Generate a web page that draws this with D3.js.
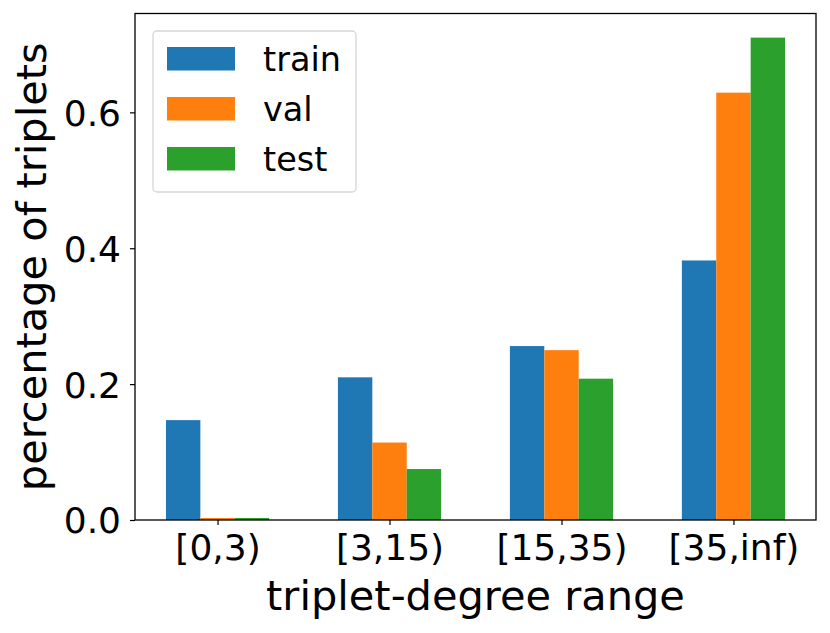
<!DOCTYPE html>
<html>
<head>
<meta charset="utf-8">
<script src="https://cdn.jsdelivr.net/npm/d3@7"></script>
<style>
  body { margin: 0; background: #fff; }
  text { font-family: "DejaVu Sans", sans-serif; fill: #000; }
</style>
</head>
<body>
<svg id="chart" width="830" height="633"></svg>
<script>
// data
const categories = ['[0,3)', '[3,15)', '[15,35)', '[35,inf)'];
const seriesNames = ['train', 'val', 'test'];
const trainValues = [0.147, 0.210, 0.256, 0.382];
const valValues = [0.003, 0.114, 0.250, 0.629];
const testValues = [0.003, 0.075, 0.208, 0.710];
const yTicks = [0.0, 0.2, 0.4, 0.6];
const colors = ['#1f77b4', '#ff7f0e', '#2ca02c'];

const series = [trainValues, valValues, testValues];

const svg = d3.select('#chart');
const plotLeft = 135, plotRight = 816, plotTop = 13.5, plotBottom = 520;
const barW = 0.2;

const x = d3.scaleLinear()
    .domain([-0.3 - 0.18, categories.length - 1 + 0.3 + 0.18])
    .range([plotLeft, plotRight]);

const yMax = d3.max(series, s => d3.max(s)) * 1.05;
const y = d3.scaleLinear()
    .domain([0, yMax])
    .range([plotBottom, plotTop]);

// bars
series.forEach(function(vals, si) {
    svg.append('g')
        .selectAll('rect')
        .data(vals)
        .enter()
        .append('rect')
        .attr('x', (d, i) => x(i + (si - 1) * barW - barW / 2))
        .attr('width', x(barW) - x(0))
        .attr('y', d => y(d))
        .attr('height', d => y(0) - y(d))
        .attr('fill', colors[si]);
});

// axes
const xAxis = d3.axisBottom(x)
    .tickValues(d3.range(categories.length))
    .tickFormat(i => categories[i])
    .tickSize(5)
    .tickPadding(8);
const gx = svg.append('g')
    .attr('transform', `translate(0,${plotBottom})`)
    .call(xAxis);
gx.select('.domain').remove();
gx.selectAll('line').attr('stroke', '#000').attr('stroke-width', 1.2);
gx.selectAll('text').style('font-size', '36px').attr('dy', '0.76em');

const yAxis = d3.axisLeft(y)
    .tickValues(yTicks)
    .tickFormat(d3.format('.1f'))
    .tickSize(5)
    .tickPadding(9);
const gy = svg.append('g')
    .attr('transform', `translate(${plotLeft},0)`)
    .call(yAxis);
gy.select('.domain').remove();
gy.selectAll('line').attr('stroke', '#000').attr('stroke-width', 1.2);
gy.selectAll('text').style('font-size', '36px').attr('dy', '0.36em');

// frame
svg.append('rect')
    .attr('x', plotLeft).attr('y', plotTop)
    .attr('width', plotRight - plotLeft).attr('height', plotBottom - plotTop)
    .attr('fill', 'none')
    .attr('stroke', '#000')
    .attr('stroke-width', 1.3);

// axis labels
svg.append('text')
    .attr('x', (plotLeft + plotRight) / 2)
    .attr('y', 610)
    .attr('text-anchor', 'middle')
    .style('font-size', '41.5px')
    .text('triplet-degree range');

svg.append('text')
    .attr('transform', `translate(46,${(plotTop + plotBottom) / 2}) rotate(-90)`)
    .attr('text-anchor', 'middle')
    .style('font-size', '41.5px')
    .text('percentage of triplets');

// legend
const legend = svg.append('g');
legend.append('rect')
    .attr('x', 153).attr('y', 31)
    .attr('width', 203).attr('height', 161)
    .attr('rx', 4)
    .attr('fill', '#fff')
    .attr('fill-opacity', 0.8)
    .attr('stroke', '#d6d6d6')
    .attr('stroke-width', 1.3);

seriesNames.forEach(function(name, i) {
    const yy = 47 + i * 50;
    legend.append('rect')
        .attr('x', 167).attr('y', yy)
        .attr('width', 68).attr('height', 23.5)
        .attr('fill', colors[i]);
    legend.append('text')
        .attr('x', 263)
        .attr('y', yy + 23.5)
        .style('font-size', '33.5px')
        .text(name);
});
</script>
</body>
</html>
